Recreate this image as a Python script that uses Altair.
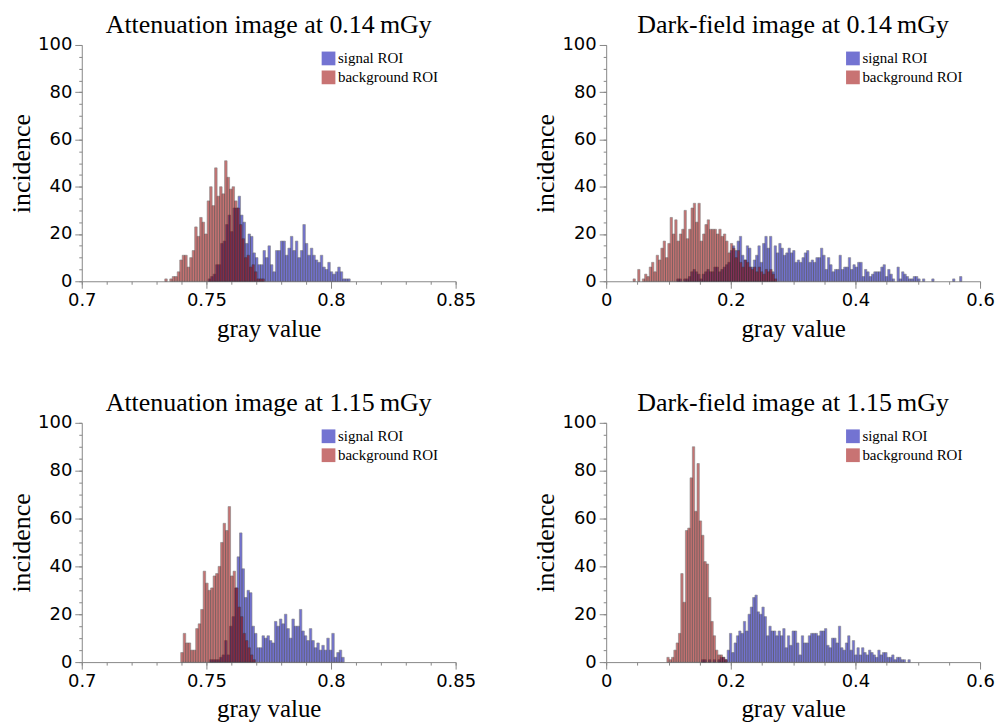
import altair as alt
import pandas as pd

# ---------------- data (counts per histogram bin) ----------------
ATT_BIN = 0.001      # bin width, attenuation histograms
DF_BIN = 0.00372     # bin width, dark-field histograms

att014_signal_start = 0.7507
att014_signal = [1, 2, 3, 7, 7, 16, 17, 24, 28, 21, 31, 31, 36, 28, 25, 16, 20, 19, 12, 10,
                 7, 7, 13, 10, 15, 7, 4, 13, 13, 17, 17, 11, 14, 19, 13, 17, 10, 13, 24, 16,
                 11, 14, 11, 9, 8, 11, 6, 5, 8, 4, 3, 4, 6, 4, 1, 1, 1]
att014_bg_start = 0.7333
att014_bg = [1, 0, 1, 2, 2, 4, 9, 11, 11, 6, 10, 13, 23, 19, 27, 25, 20, 34, 40, 32,
             48, 36, 40, 37, 51, 44, 39, 40, 34, 31, 24, 18, 10, 11, 6, 7, 4, 1, 1, 1]

df014_signal_start = 0.1133
df014_signal = [1, 1, 0, 1, 1, 2, 4, 5, 4, 3, 1, 3, 4, 5, 4, 4, 6, 6, 4, 5,
                6, 7, 8, 13, 15, 13, 17, 19, 11, 9, 15, 14, 6, 9, 11, 15, 8, 16, 19, 14,
                19, 4, 15, 12, 16, 14, 11, 12, 14, 12, 13, 8,
                9, 8, 10, 12, 13, 8, 9, 8, 10, 10, 14, 11, 5, 10, 7, 4, 5, 5, 11, 5,
                6, 6, 10, 5, 7, 6, 8, 8, 2, 5, 4, 2, 3, 4, 4, 4, 6, 7, 2, 5,
                3, 1, 0, 6, 1, 4, 3, 2, 1, 1, 2, 2, 1, 0, 1,
                0, 0, 0, 1, 0, 0, 0, 0, 0, 0, 0, 0, 1, 0, 0, 2]
df014_bg_start = 0.0431
df014_bg = [1, 0, 5, 0, 1, 3, 2, 6, 8, 4, 11, 9, 14, 17, 10, 16, 27, 20, 26, 17,
            20, 22, 30, 18, 22, 31, 33, 25, 33, 17, 20, 24, 26, 22, 22, 22, 20, 22, 19, 20,
            17, 12, 16, 14, 10, 13, 8, 6, 9, 8, 6, 5, 6, 4, 6, 4, 3, 5, 4, 5, 3, 1]

att115_signal_start = 0.7513
att115_signal = [1, 1, 1, 1, 2, 3, 9, 3, 15, 19, 31, 44, 54, 39, 27, 30, 29, 15, 12, 6,
                 6, 11, 10, 11, 9, 8, 17, 15, 18, 16, 20, 14, 10, 18, 15, 15, 22, 13, 11, 9,
                 14, 9, 6, 8, 5, 7, 5, 10, 5, 12, 2, 4, 5, 2]
att115_bg_start = 0.7397
att115_bg = [4, 12, 8, 8, 5, 5, 14, 16, 22, 38, 33, 30, 31, 36, 37, 40, 50, 58, 55, 65,
             36, 38, 31, 23, 19, 12, 9, 6, 3, 1]

df115_signal_start = 0.1532
df115_signal = [1, 1, 0, 1, 0, 1, 0, 1, 2, 2, 1, 5, 12, 4, 8, 11, 13, 12, 17, 13,
                20, 23, 27, 28, 21, 20, 23, 19, 11, 15, 13, 13, 11,
                13, 11, 14, 6, 11, 7, 13, 13, 8, 3, 11, 8, 8, 11, 12, 12, 12, 11, 13, 13,
                14, 7, 6, 10, 10, 8, 15, 6, 5, 8, 11, 5, 9, 3, 6, 3, 6, 4, 3, 5,
                4, 3, 2, 5, 3, 4, 4, 2, 2, 3, 1, 2, 2, 1, 1, 0, 1]
df115_bg_start = 0.0974
df115_bg = [2, 1, 2, 5, 8, 12, 37, 25, 55, 56, 77, 90, 63, 83, 59, 53, 42, 41, 27, 17,
            11, 5, 3, 3, 2, 1]

SERIES = ["signal ROI", "background ROI"]
COLORS = ["#0000ad", "#9b0000"]

ATT_DOMAIN = [0.7, 0.85]
ATT_MAJOR = [0.7, 0.75, 0.8, 0.85]
ATT_MINOR = [round(0.7 + 0.01 * i, 3) for i in range(16)]
DF_DOMAIN = [0, 0.6]
DF_MAJOR = [0, 0.2, 0.4, 0.6]
DF_MINOR = [round(0.05 * i, 3) for i in range(13)]
Y_MAJOR = [0, 20, 40, 60, 80, 100]
Y_MINOR = list(range(0, 101, 5))

SERIF = "Liberation Serif"
SANS = "DejaVu Sans"


def rows(start, width, counts, label, z):
    out = []
    for i, c in enumerate(counts):
        if c > 0:
            out.append({"lo": start + i * width, "hi": start + (i + 1) * width,
                        "count": c, "zero": 0, "series": label, "z": z})
    return out


def panel(title, sig_start, sig, bg_start, bg, binw, xdom, xmajor, xminor, h):
    df = pd.DataFrame(rows(sig_start, binw, sig, SERIES[0], 0) +
                      rows(bg_start, binw, bg, SERIES[1], 1))
    xs = alt.Scale(domain=xdom, nice=False, zero=False, padding=0)
    ys = alt.Scale(domain=[0, 100], nice=False, padding=0)
    base = alt.Chart(df)
    bars = base.mark_rect(opacity=0.55, stroke="#202020", strokeWidth=0.6).encode(
        x=alt.X("lo:Q", scale=xs,
                axis=alt.Axis(values=xmajor, title="gray value", orient="bottom",
                              tickSize=7, format="~g", labelPadding=3, titlePadding=7,
                              labelFlush=False, titleFontSize=25)),
        x2="hi:Q",
        y=alt.Y("count:Q", scale=ys,
                axis=alt.Axis(values=Y_MAJOR, title="incidence", orient="left",
                              tickSize=7, labelPadding=3, titlePadding=3,
                              labelFlush=False, titleFontSize=26)),
        y2="zero:Q",
        color=alt.Color("series:N",
                        scale=alt.Scale(domain=SERIES, range=COLORS),
                        legend=alt.Legend(title=None, orient="none", legendX=240, legendY=6,
                                          symbolType="square", symbolSize=190,
                                          symbolStrokeWidth=0, symbolOpacity=0.55,
                                          labelFont=SERIF, labelFontSize=15,
                                          labelOffset=2, rowPadding=3)),
        order=alt.Order("z:Q"),
    )
    minor = base.mark_point(opacity=0).encode(
        x=alt.X("lo:Q", scale=xs,
                axis=alt.Axis(values=xminor, labels=False, title=None, domain=False,
                              tickSize=3, orient="bottom")),
        y=alt.Y("count:Q", scale=ys,
                axis=alt.Axis(values=Y_MINOR, labels=False, title=None, domain=False,
                              tickSize=3, orient="left")),
    )
    return alt.layer(bars, minor).resolve_axis(x="independent", y="independent").properties(
        width=375, height=h,
        title=alt.TitleParams(title, font=SERIF, fontSize=26, fontWeight="normal",
                              anchor="middle", offset=-2),
    )


p1 = panel("Attenuation image at 0.14\u2009mGy", att014_signal_start, att014_signal,
           att014_bg_start, att014_bg, ATT_BIN, ATT_DOMAIN, ATT_MAJOR, ATT_MINOR, 237)
p2 = panel("Dark-field image at 0.14\u2009mGy", df014_signal_start, df014_signal,
           df014_bg_start, df014_bg, DF_BIN, DF_DOMAIN, DF_MAJOR, DF_MINOR, 237)
p3 = panel("Attenuation image at 1.15\u2009mGy", att115_signal_start, att115_signal,
           att115_bg_start, att115_bg, ATT_BIN, ATT_DOMAIN, ATT_MAJOR, ATT_MINOR, 240)
p4 = panel("Dark-field image at 1.15\u2009mGy", df115_signal_start, df115_signal,
           df115_bg_start, df115_bg, DF_BIN, DF_DOMAIN, DF_MAJOR, DF_MINOR, 240)

top = alt.hconcat(p1, p2, spacing=56).resolve_scale(color="independent")
bottom = alt.hconcat(p3, p4, spacing=56).resolve_scale(color="independent")
chart = alt.vconcat(top, bottom, spacing=49).resolve_scale(color="independent").properties(
    padding={"left": 0, "top": 3, "right": 0, "bottom": 0}
).configure_axis(
    labelFont=SANS, labelFontSize=18, labelColor="#000",
    titleFont=SERIF, titleFontSize=24, titleFontWeight="normal", titleColor="#000",
    domainColor="#888", tickColor="#888", grid=False,
).configure_view(stroke=None)

chart.save("out.html", embed_options={"renderer": "svg", "actions": False})
